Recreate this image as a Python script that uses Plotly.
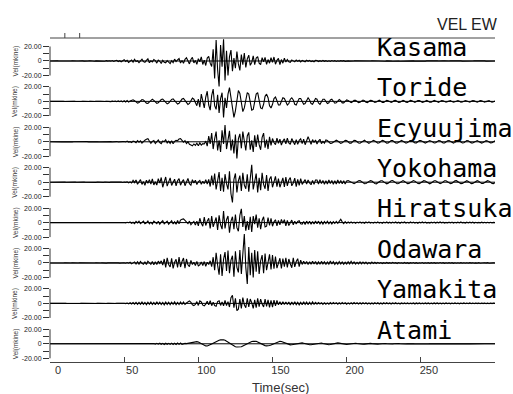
import numpy as np
import plotly.graph_objects as go

stations = ["Kasama", "Toride", "Ecyuujima", "Yokohama", "Hiratsuka", "Odawara", "Yamakita", "Atami"]
x_ticks = [0, 50, 100, 150, 200, 250]
y_tick_rel = [20, 10, 0, -10, -20]
y_tick_text = ["20.00", "", "0", "", "-20.00"]

kasama = [
0,0.2,-0.1,0.1,-0.2,0.1,0,-0.1,0.2,-0.1,
0.1,-0.2,0.2,0,-0.1,0.2,-0.2,0.1,0,-0.1,
0.2,-0.1,0.1,-0.2,0.2,-0.1,0.1,0.3,-0.2,0.1,
-0.3,0.2,0.1,-0.2,0.3,-0.2,0.1,-0.3,0.4,-0.2,
0.3,-0.2,0.6,-0.5,0.2,0.9,-0.7,0.4,-1.1,0.6,
1.8,-0.6,0.9,-2.0,0.5,1.4,-1.5,2.4,-0.8,0.3,
-2.2,1.0,2.6,-0.9,-1.8,0.7,3.0,-2.4,0.2,-1.2,
2.0,0.6,-2.9,1.2,-0.4,-3.4,0.9,-1.8,-2.6,0.5,
-1.6,-3.6,0.4,-2.2,2.6,-0.8,1.4,3.4,-2.8,0.6,
-3.2,2.4,4.4,-1.2,-4.0,2.0,5.0,-2.6,0.8,-4.6,
3.2,-1.0,5.6,-4.8,1.2,-6.2,4.0,6.5,-3.0,-7.5,
16,-24,29,-12,-35,22,-8,30,-27,14,
-20,6,15,-14,4,-10,13,-4,-13,9,
-5,11,-9,3,8,-6,-2,7,-5,4,
6,-3,-5,4.5,-1,5,-4.5,2,-3,4.5,
-2,5.5,-4.5,1,3.5,-5,2,-3,4,-1.5,
2,-1,-1.8,1.5,0.3,-1.2,1.4,-0.5,1.0,-1.2,
0.8,0.2,-1.0,1.2,-0.4,0.9,-0.8,0.1,-1.0,0.8,
0.6,-0.8,0.4,-0.6,0.8,-0.4,0.5,-0.7,0.3,-0.5,
0.6,-0.3,0.5,-0.6,0.2,-0.4,0.5,-0.2,0.4,-0.5,
0.3,0.1,-0.2,-0.4,-0.2,0.1,0.3,0.2,-0.1,-0.3,
-0.2,0.2,0.4,0.1,-0.3,-0.3,0.0,0.3,0.2,-0.2,
-0.4,-0.1,0.2,0.3,0.0,-0.2,-0.3,0.1,0.3,0.1,
-0.2,-0.3,0.0,0.2,0.3,-0.1,-0.3,-0.2,0.2,0.3,
0.0,-0.3,-0.2,0.1,0.3,0.2,-0.2,-0.3,0.0,0.2,
0.3,0.0,-0.3,-0.2,0.2,0.3,0.1,-0.2,-0.3,0.0,
0.2,0.3,-0.1,-0.3,-0.1,0.2,0.2,-0.1,-0.3,-0.1,
0.2,0.3,0.0,-0.2,-0.2,0.1,0.3,0.1,-0.2,-0.3,
0.0,0.2,0.2,-0.1,-0.3,-0.1,0.2,0.3,0.0,-0.2,
-0.2,0.1,0.3,0.1,-0.2,-0.2,0.0,0.2,0.1,-0.1,
0.0]

toride = [
0,0.1,-0.1,0.1,0,-0.1,0.1,-0.1,0,0.1,
-0.1,0.1,0,-0.1,0.2,-0.1,0.1,0,-0.2,0.1,
0.1,-0.1,0.2,-0.1,0,0.1,-0.2,0.2,-0.1,0.1,
-0.1,0.2,-0.2,0.1,0.1,-0.2,0.2,-0.1,0.2,-0.2,
0.2,-0.3,0.3,-0.2,0.4,-0.5,0.6,-0.4,0.8,-0.6,
0.9,-0.8,1.2,-1.0,0.5,1.5,2.2,1.0,-1.2,-2.5,
-1.5,0.8,2.6,2.0,-0.5,-2.4,-2.8,-0.6,1.8,3.0,
1.5,-1.0,-2.8,-2.0,0.6,2.5,3.2,1.0,-1.8,-3.4,
-2.2,0.5,2.8,3.5,1.2,-1.5,-3.6,-2.5,0.8,3.2,
4.0,1.5,-2.0,-4.2,-2.8,1.0,4.5,3.0,-2.5,-6.0,
3,-8,10,2,-9,6,14,-5,-12,8,
17,-6,-11,9,-16,4,12,-22,5,-9,
10,19,7,-8,-22,-13,4,15,11,-3,
-14,-9,4,12,10,-1,-12,-11,-1,10,
12,3,-9,-10,-4,7,10,5,-6,-9,
-4,4,6,1,-5,-5,1,5,4,-2,
-5,-3,3,5,2,-4,-5,0,4,4,
-1,-4,-3,2,5,2,-3,-4,0,4,
3,-2,-4,-1,3,3,-1,-3,-2,2,
3,0,-2.5,-2,1,2.5,1,-2,-2,0.5,
2,1.2,-1,-1.8,-0.5,1.4,1.6,-0.2,-1.6,-1.2,
0.6,1.8,0.8,-1.2,-1.6,0,1.5,1.2,-0.6,-1.5,
-0.8,0.9,1.6,0.4,-1.3,-1.4,0.3,1.5,1.0,-0.8,
-1.5,-0.4,1.2,1.4,-0.2,-1.4,-1.0,0.7,1.5,0.5,
-1.1,-1.3,0.2,1.4,0.9,-0.8,-1.4,-0.2,1.2,1.1,
-0.4,-1.3,-0.7,0.9,1.3,0.2,-1.1,-1.0,0.5,1.3,
0.6,-0.9,-1.2,0,1.2,0.9,-0.6,-1.2,-0.3,1.0,
1.1,-0.3,-1.2,-0.6,0.8,1.2,0.1,-1.0,-0.9,0.5,
1.2,0.4,-0.9,-1.1,0.2,1.1,0.7,-0.7,-1.1,-0.1,
1.0,0.8,-0.5,-1.1,-0.3,0.9,1.0,-0.3,-1.0,-0.6,
0.5]

ecyuujima = [
0,-0.1,0.1,0,0.1,-0.1,0,0.1,-0.1,0.1,
-0.1,0,0.2,-0.1,0.1,-0.1,0,0.1,-0.2,0.1,
0.1,-0.2,0.1,0,-0.1,0.2,-0.1,0.1,-0.1,0,
0.2,-0.1,0.1,-0.2,0.1,0.2,-0.2,0.1,-0.1,0.2,
-0.1,0.2,-0.2,0.1,-0.2,0.3,-0.2,0.2,-0.3,0.2,
0.3,-0.2,0.8,-0.4,0.2,-1.2,0.9,0.3,-1.4,1.6,
-0.5,1.2,-2.0,0.4,2.2,3.5,4.2,1.0,-2.0,0.6,
1.8,-2.4,0.5,2.6,-1.0,-2.5,1.2,0.2,2.8,-1.6,
0.9,-2.2,1.4,-2.8,0.6,2.0,1.5,3.8,4.5,2.0,
-0.5,1.5,-2.5,0.0,-3.5,-4.5,-5.5,-3.0,-5.0,-2.0,
-5.5,-1.5,-4.5,-2.5,-3.0,1.0,-6.0,8.0,-3.0,12.0,
-10,4,14,-12,2,-14,16,-3,23,-10,
6,15,-12,3,-16,10,-23,4,11,-9,
14,-2,-12,8,13,-11,2,-14,9,-7,
10,-4,-11,6,12,-8,3,-10,7,-5,
4.5,-1,-4,5,-2,3.5,-4.5,1,4,-3,
5,-1.5,-3.5,4.5,0.5,-4,3,-3.5,2,4,
-2.5,3.5,-4,1,7,2,-3.5,3,-1,2.5,
-3,1,3.5,-2.5,0.5,-2,2.5,1.8,-0.5,-2.2,
-2.0,-0.6,1.4,2.2,1.0,-1.2,-2.1,-1.4,0.8,2.0,
1.6,-0.4,-1.9,-1.8,0.2,1.9,1.8,0.0,-1.7,-2.0,
-0.3,1.6,2.1,0.6,-1.4,-2.0,-0.8,1.2,2.0,1.0,
-1.0,-2.0,-1.2,0.7,1.9,1.4,-0.4,-1.8,-1.6,0.2,
1.7,1.8,0.1,-1.5,-1.9,-0.4,1.3,1.9,0.8,-1.1,
-1.9,-1.1,0.8,1.8,1.3,-0.5,-1.7,-1.5,0.2,1.6,
1.7,0.2,-1.4,-1.8,-0.5,1.2,1.8,0.9,-0.9,-1.7,
-1.2,0.6,1.7,1.4,-0.3,-1.6,-1.6,0.0,1.5,1.7,
0.4,-1.2,-1.8,-0.8,1.0,1.8,1.1,-0.7,-1.7,-1.3,
0.4,1.6,1.5,-0.1,-1.5,-1.6,-0.2,1.3,1.7,0.5,
-1.1,-1.7,-0.9,0.8,1.6,1.2,-0.5,-1.5,-1.3,0.3,
1.4]

yokohama = [
0,0.1,0,-0.1,0.1,0,-0.1,0.1,-0.1,0,
0.1,-0.1,0.1,0,-0.2,0.1,0,0.1,-0.1,0.1,
-0.1,0.1,-0.1,0.2,0,-0.1,0.1,-0.2,0.1,0,
0.1,-0.2,0.2,-0.1,0.1,0,-0.2,0.2,-0.1,0.1,
-0.2,0.1,0.2,-0.2,0.1,-0.2,0.2,-0.1,0.2,-0.3,
0.3,-0.2,0.5,-0.8,0.4,-1.0,2.5,-0.6,3.0,-2.8,
1.2,3.5,-3.0,0.8,-4.2,2.8,-1.5,3.6,-2.5,4.5,
-3.8,0.6,-4.0,4.8,-1.2,6.5,-7.0,2.0,7.2,-5.5,
1.5,6.0,-4.5,-1.0,4.2,-5.0,2.0,5.0,-4.2,0.5,
3.6,-4.8,1.0,5.2,-2.0,-4.0,3.5,-1.0,2.8,-3.2,
0.5,2.5,-3.0,1.2,-2.0,3.5,-2.6,4.0,-6.0,9.0,
-4,12,-10,3,14,-12,6,-13,11,-2,
-10,15,-16,-28,4,12,-14,2,9,-12,
13,-4,-9,11,-13,5,24,-10,3,12,
-14,6,-11,13,-3,-9,10,-12,4,8,
-7,2,8,-6,5,-7,-1,6,-6.5,7,
-5,3,6.5,-5,-1,5.5,-6,4,-4.5,5,
-3,1,3.5,-2.5,3,-1,-3.5,2.5,-3,3,
3,-2.5,3.5,-2,2.5,-3,2,-2.5,3,-2,
2.5,-3,2,-2.5,3,-2,2.5,-2.2,2,-2.6,
1.8,2.2,1.0,-0.8,-2.0,-2.1,-0.9,0.9,2.0,2.2,
0.8,-1.0,-2.1,-1.8,-0.4,1.2,2.2,1.6,-0.2,-1.7,
-2.2,-1.2,0.6,2.0,2.0,0.4,-1.4,-2.2,-1.4,0.3,
1.9,2.1,0.8,-1.1,-2.1,-1.7,-0.1,1.6,2.2,1.1,
-0.7,-2.0,-1.9,-0.4,1.4,2.2,1.4,-0.4,-1.9,-2.0,
-0.7,1.1,2.1,1.7,0.0,-1.7,-2.2,-1.0,0.8,2.0,
1.9,0.4,-1.4,-2.1,-1.3,0.5,1.9,2.0,0.6,-1.2,
-2.1,-1.5,0.2,1.8,2.1,0.9,-0.9,-2.0,-1.7,-0.1,
1.6,2.1,1.1,-0.7,-2.0,-1.8,-0.3,1.4,2.1,1.3,
-0.5,-1.9,-1.9,-0.5,1.3,2.1,1.4,-0.4,-1.8,-1.9,
-0.6]

hiratsuka = [
0,0.1,-0.1,0,0.1,-0.1,0.1,0,-0.1,0.1,
-0.1,0.1,0,-0.1,0.1,-0.1,0.2,-0.1,0,0.1,
-0.1,0,0.1,-0.2,0.1,0,-0.1,0.2,-0.1,0.1,
0,-0.1,0.2,-0.1,0.1,-0.2,0.1,0.1,-0.2,0.1,
-0.1,0.2,-0.2,0.1,-0.1,0.2,-0.2,0.2,-0.1,0.2,
0.2,-0.3,0.5,-0.2,0.8,-1.0,0.4,-1.4,1.6,-0.5,
1.8,-1.5,0.4,2.0,-1.6,-0.4,2.2,-1.8,0.5,-1.9,
2.1,0.2,-1.6,1.8,-2.2,0.6,2.5,-1.7,-0.3,2.0,
-2.3,0.4,2.6,-2.0,1.0,-2.4,2.8,-1.5,3.5,4.5,
5.0,3.0,0.5,-1.5,2.0,-3.0,-0.5,1.5,-3.5,2.0,
-4.5,6,-1,-5,7.5,-4,2,6,-8,9,
-6,1,7,-10,10,-3,-9,16,-8,4,
9,-14,2,8,-9,11,-7,-12,10,19,
-6,9,-11,2,-10,8,-13,9,-2,11,
-7,6,-9,3,8,-6,-5,7,-4,6,
-5,1,4,-4.5,3,-3,4.5,-1,4,-4.5,
3,-4,0.5,3.5,-3,2,-2,1.5,2.5,-1.5,
-2,1.5,-2.5,2,-1.5,1.8,-2.2,1.6,-1.8,2.2,
-1.5,2,-1.8,1.4,-2,1.6,-1.2,1.8,-1.6,1.2,
-1.8,1.4,-1.2,1.5,-1.0,1.8,4.5,1.0,-1.5,1.2,
-1.0,0.8,-0.6,1.0,-0.8,0.6,-1.0,0.7,-0.5,0.9,
-0.7,0.5,-0.9,0.8,-0.4,1.0,-0.6,0.4,-0.8,0.6,
-0.5,0.9,-0.7,0.3,-0.9,0.6,-0.4,0.8,-0.6,0.5,
-0.8,0.6,-0.4,0.9,-0.6,0.5,-0.9,0.7,-0.3,0.8,
-0.6,0.4,-0.8,1.0,-0.5,0.6,-0.7,0.4,-0.9,0.6,
-0.5,0.8,-0.4,0.7,-0.6,0.3,-0.8,0.5,-0.4,0.7,
-0.6,0.5,-0.3,0.8,-0.5,0.6,-0.7,0.3,-0.5,0.6,
-0.4,0.7,-0.6,0.4,-0.3,0.6,-0.5,0.8,-0.4,0.3,
-0.6,0.5,-0.4,0.6,-0.3,0.5,-0.6,0.4,-0.5,0.3,
-0.4,0.6,-0.3,0.5,-0.5,0.4,-0.3,0.5,-0.4,0.3,
0.0]

odawara = [
0,-0.1,0.1,0,-0.1,0.1,0,0.1,-0.1,0,
0.1,-0.1,0.1,-0.1,0,0.2,-0.1,0.1,-0.1,0,
0.1,0,-0.1,0.1,-0.2,0.1,0,0.1,-0.1,0.2,
-0.1,0.1,-0.2,0.1,0,0.2,-0.1,0.1,-0.2,0.1,
0.2,-0.1,0.1,-0.2,0.2,-0.1,0.2,-0.2,0.1,-0.2,
0.3,-0.4,0.6,-0.2,1.0,-1.2,0.3,1.5,-1.3,1.8,
-1.5,2.0,-0.4,-1.6,1.4,-2.2,2.5,0.3,-1.8,2.0,
-2.4,1.6,-2.0,2.5,-0.5,3.0,-2.8,5.5,-6.0,7.0,
-2.0,-5.5,6.5,-7.5,1.0,5.0,-6.2,8.0,-5.5,2.0,
6.8,-7.2,5.5,-2.5,-5.0,3.5,-2.0,1.0,-3.5,2.0,
-4.0,-2.5,1.5,-3.5,2.0,-4.5,1.0,-2.0,3.0,-5.0,
8,-10,14,-3,-16,12,-18,5,15,-11,
17,-14,4,10,-19,16,-6,-13,18,-15,
12,40,-6,-29,22,-17,14,-20,18,-12,
16,-15,3,11,-14,13,-10,2,12,-9,
11,-8,9,-7,1,6.5,-7.5,6,-5,7,
-6,5.5,-1,-6.5,7,-5.5,2,6,-5,4,
-2,2.4,-1.5,2,-2.2,1.8,-1.6,2.5,-1.4,2,
-2.2,1.5,-1.8,2.2,-1.2,1.8,-2,1.4,-1.6,2.6,
-1.4,1.8,-2,1.2,-1.6,2,-1.3,1.5,-1.8,1.1,
-1.5,1.8,-1.2,2.4,-1.0,1.4,-1.6,1.0,-1.3,1.6,
-1.1,1.4,-0.9,1.2,-1.4,0.8,-1.0,1.2,-0.8,1.0,
-0.7,0.8,-0.5,0.6,-0.8,0.4,-0.6,0.7,-0.4,0.5,
-0.6,0.8,-0.3,0.5,-0.7,0.6,-0.4,0.3,-0.6,0.7,
-0.5,0.4,-0.7,0.5,-0.3,0.6,-0.5,0.4,-0.6,0.3,
-0.4,0.6,-0.5,0.3,-0.4,0.5,-0.6,0.4,-0.3,0.5,
-0.5,0.3,-0.4,0.6,-0.3,0.4,-0.5,0.3,-0.4,0.5,
-0.3,0.4,-0.5,0.3,-0.4,0.3,-0.3,0.5,-0.4,0.3,
-0.4,0.3,-0.3,0.4,-0.2,0.3,-0.4,0.2,-0.3,0.4,
-0.3,0.2,-0.3,0.3,-0.2,0.4,-0.3,0.2,-0.3,0.2,
0.0]

yamakita = [
0,0.1,-0.1,0,0.1,0,-0.1,0.1,0,-0.1,
0.1,0,-0.1,0.1,-0.1,0,0.1,-0.1,0.1,0,
-0.1,0.1,0,-0.1,0.1,-0.1,0.1,0,-0.1,0.1,
0,-0.1,0.1,-0.1,0.2,-0.1,0,0.1,-0.1,0.1,
-0.1,0.2,-0.1,0.1,-0.2,0.1,-0.1,0.2,-0.1,0.1,
0.2,-0.3,0.5,-0.6,0.9,-0.8,1.2,-1.0,1.4,-1.2,
1.5,-1.3,1.8,-1.4,1.2,-1.8,1.6,-1.2,2.0,-1.5,
1.4,-1.8,2.2,-1.3,1.7,-1.6,1.3,-2.0,1.8,-1.4,
1.6,-1.9,1.5,-1.2,2.0,-1.7,1.4,-1.6,1.9,-1.3,
1.8,-1.5,0.5,2.5,3.5,1.5,-2.0,-3.0,-1.5,2.5,
-2.8,3.5,2.0,-2.5,-3.5,-1.0,3.0,-2.0,3.8,-3.2,
1.5,-3.0,-4.0,2.5,3.5,-2.8,2.0,-3.5,4.0,-3.0,
2.5,-5,8,11,-6,7,-10,-8,6,-7,
8,-2,-6,7,-5,6,1,-7,5,-6,
7,-4.5,6,-1,-5,6,-4,5,-5.5,4,
-5,4.5,-3.5,4,-2,2.2,-1.8,2.4,-1.6,2,
-1.6,2.0,-2.4,1.8,-1.5,2.1,-1.7,1.4,-2.0,1.6,
-1.8,2.2,-1.4,1.7,-2.0,1.5,-1.6,2.0,-1.2,1.5,
-1.0,1.2,-0.8,1.0,-1.3,0.9,-1.1,0.7,-1.0,1.2,
-0.9,1.1,-0.7,1.0,-1.2,0.8,-0.9,1.1,-0.6,0.9,
-1.1,0.7,-0.9,1.0,-0.8,1.2,-0.7,0.9,-1.0,0.8,
-0.8,1.0,-0.6,0.8,-1.0,0.7,-0.9,0.6,-0.8,1.0,
-0.7,0.9,-0.8,0.6,-0.9,0.8,-0.6,0.9,-0.7,0.6,
-0.8,0.7,-0.6,0.9,-0.7,0.5,-0.8,0.7,-0.6,0.8,
-0.6,0.8,-0.7,0.5,-0.6,0.7,-0.8,0.6,-0.5,0.7,
-0.7,0.5,-0.6,0.8,-0.5,0.6,-0.7,0.5,-0.6,0.6,
-0.5,0.7,-0.6,0.4,-0.6,0.5,-0.5,0.7,-0.4,0.5,
-0.6,0.5,-0.4,0.6,-0.5,0.4,-0.6,0.5,-0.4,0.6,
-0.5,0.4,-0.5,0.6,-0.4,0.5,-0.5,0.4,-0.3,0.5,
-0.4,0.5,-0.3,0.4,-0.5,0.3,-0.4,0.5,-0.3,0.4,
0.0]

atami = [
0,0,0.1,0,-0.1,0,0,0.1,0,-0.1,
0,0.1,0,0,-0.1,0,0.1,0,0,-0.1,
0,0,0.1,0,-0.1,0,0.1,0,0,-0.1,
0,0.1,0,-0.1,0,0,0.1,0,-0.1,0,
0.1,0,-0.1,0,0.1,0,0,-0.1,0.1,0,
-0.1,0,0.1,0,-0.1,0.1,0,-0.1,0.1,-0.1,
0.1,-0.1,0.2,-0.2,0.2,-0.3,0.3,-0.3,0.4,-0.4,
0.5,-0.6,0.7,-0.5,0.8,-0.7,0.6,-0.9,0.8,-0.6,
0.7,-0.8,0.9,-1.0,0.8,-0.9,1.0,-0.8,1.1,-0.9,
0.2,0.5,0.3,0.8,1.2,1.0,1.8,2.4,2.8,3.0,
2.4,1.2,-0.2,-1.5,-2.4,-2.9,-3.0,-2.4,-1.5,-0.4,
0.8,2.0,3.2,4.2,5.0,5.4,5.6,5.5,4.8,3.6,
2.2,0.8,-0.8,-2.2,-3.3,-4.0,-4.5,-4.6,-4.6,-4.0,
-3.0,-1.8,-0.5,0.8,1.8,2.6,3.2,3.5,3.6,3.4,
2.6,1.4,0.2,-1.0,-1.9,-2.5,-2.8,-2.9,-2.4,-1.6,
-0.6,0.6,1.6,2.5,3.2,3.5,3.2,2.4,1.2,0.2,
-0.6,-1.2,-1.5,-1.4,-1.0,-0.4,0.3,0.9,1.3,1.5,
1.3,0.8,0.1,-0.6,-1.1,-1.4,-1.3,-0.9,-0.3,0.4,
0.9,1.3,1.4,1.1,0.5,-0.2,-0.8,-1.2,-1.3,-1.0,
-0.5,0.1,0.7,1.1,1.2,0.9,0.4,-0.2,-0.7,-1.0,
-1.0,-0.7,-0.2,0.3,0.7,0.9,0.8,0.4,-0.1,-0.5,
-0.7,-0.7,-0.4,0.0,0.4,0.6,0.6,0.3,-0.1,-0.4,
-0.5,-0.5,-0.3,0.1,0.4,0.5,0.4,0.1,-0.2,-0.4,
-0.4,-0.3,0.0,0.3,0.4,0.3,0.1,-0.2,-0.3,-0.3,
-0.2,0.1,0.3,0.3,0.2,-0.1,-0.2,-0.3,-0.2,0.0,
0.2,0.3,0.2,0.0,-0.2,-0.2,-0.1,0.1,0.2,0.1,
0,-0.1,-0.1,0,0.1,0.1,0,-0.1,0,0.1,
0,0,-0.1,0,0.1,0,0,-0.1,0,0,
0.1,0,0,-0.1,0,0,0.1,0,0,-0.1,
0,0,0.1,0,0,-0.1,0,0,0,0,
0]

series = [kasama, toride, ecyuujima, yokohama, hiratsuka, odawara, yamakita, atami]

SPACING = 55.7          # vertical distance between panel baselines (data units)
Y_TOP, Y_BOTTOM = 31.7, 25.1
offsets = [-i * SPACING for i in range(len(stations))]

FONT = "Liberation Sans, Arial, sans-serif"
fig = go.Figure()

tickvals, ticktext = [], []
shapes, annotations = [], []
for name, vals, off in zip(stations, series, offsets):
    v = np.asarray(vals, dtype=float)
    t = np.arange(len(v))
    shapes.append(dict(type="line", xref="paper", x0=0, x1=1, yref="y", y0=off, y1=off,
                       line=dict(color="black", width=1), layer="below"))
    shapes.append(dict(type="line", xref="paper", x0=0, x1=0, yref="y",
                       y0=off + y_tick_rel[-1], y1=off + y_tick_rel[0],
                       line=dict(color="#333", width=1)))
    fig.add_trace(go.Scatter(x=t, y=v + off, mode="lines", line=dict(color="black", width=1.1),
                             showlegend=False, hoverinfo="skip"))
    for rv, rt in zip(y_tick_rel, y_tick_text):
        tickvals.append(off + rv)
        ticktext.append(rt)
    annotations.append(dict(x=219, y=off - 4, xref="x", yref="y", text=name, showarrow=False,
                            xanchor="left", yanchor="bottom",
                            font=dict(family="DejaVu Sans Mono", size=25, color="black")))
    annotations.append(dict(x=-0.0775, y=off, xref="paper", yref="y", text="Vel(mkine)",
                            showarrow=False, textangle=-90, xanchor="center", yanchor="middle",
                            font=dict(family=FONT, size=6.5, color="#333")))

shapes.append(dict(type="line", xref="paper", x0=0, x1=1, yref="paper", y0=1, y1=1,
                   line=dict(color="#444", width=1)))
for tx in [10, 20]:
    shapes.append(dict(type="line", xref="x", x0=tx, x1=tx, yref="paper", ysizemode="pixel",
                       yanchor=1, y0=0, y1=5, line=dict(color="#444", width=1)))

annotations.append(dict(x=1.011, y=1.043, xref="paper", yref="paper", text="VEL EW",
                        showarrow=False, xanchor="right", yanchor="middle",
                        font=dict(family=FONT, size=16, color="#222")))
annotations.append(dict(x=0.519, y=-0.0787, xref="paper", yref="paper", text="Time(sec)",
                        showarrow=False, xanchor="center", yanchor="middle",
                        font=dict(family=FONT, size=13, color="#333")))

fig.update_layout(
    width=513, height=394,
    margin=dict(l=50, r=18, t=38, b=32),
    paper_bgcolor="white", plot_bgcolor="white",
    shapes=shapes, annotations=annotations,
    xaxis=dict(range=[0, 300], tickvals=x_ticks, ticks="inside", ticklen=5,
               tickcolor="#444", showline=True, linecolor="#444", linewidth=1,
               showgrid=False, zeroline=False, ticklabelshift=8, ticklabelstandoff=-2,
               tickfont=dict(family=FONT, size=11, color="#333")),
    yaxis=dict(range=[offsets[-1] - Y_BOTTOM, Y_TOP], tickvals=tickvals, ticktext=ticktext,
               ticks="outside", ticklen=6, tickcolor="#333", showline=False,
               showgrid=False, zeroline=False,
               tickfont=dict(family=FONT, size=7, color="#222")),
)

fig.write_html("out.html", config={"displayModeBar": False},
               post_script="document.body.style.margin='0';document.body.style.overflow='hidden';")
